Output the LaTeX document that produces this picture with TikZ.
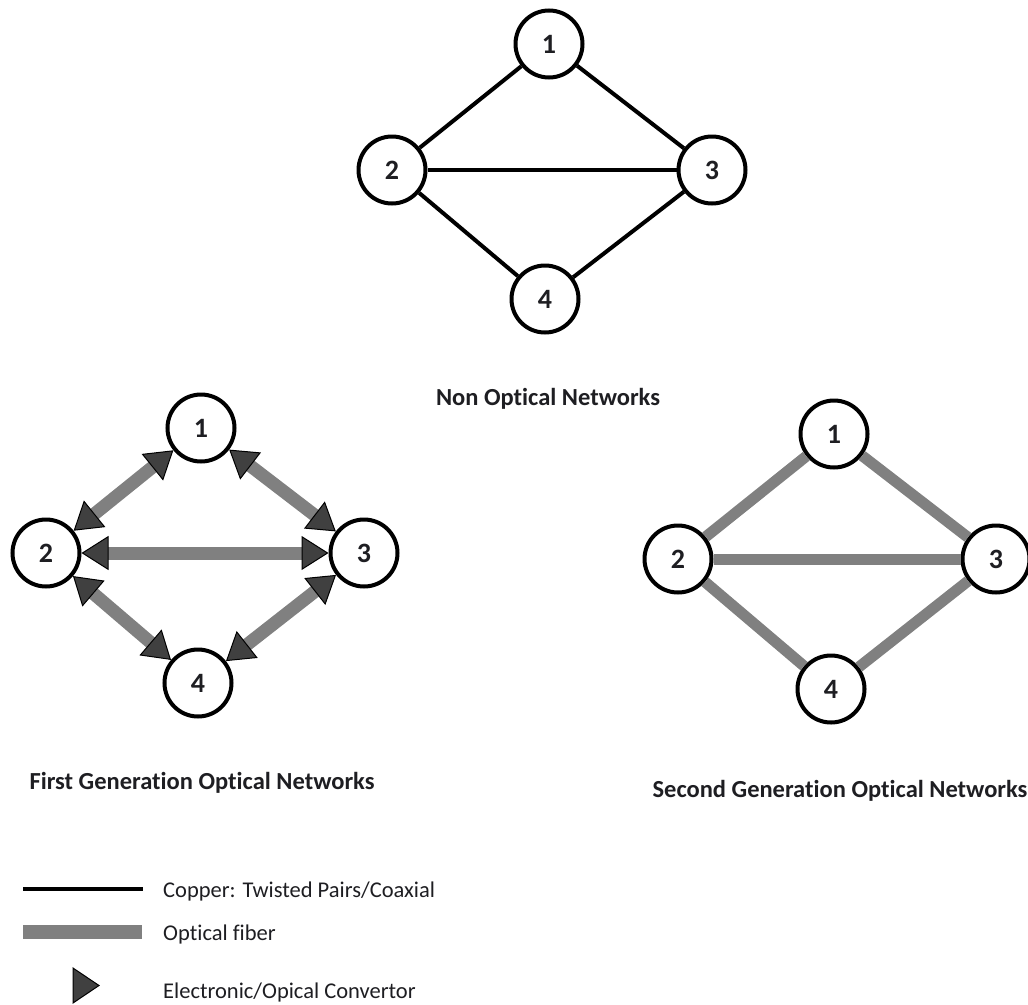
\documentclass[tikz,border=0pt]{standalone}
\usepackage{fontspec}
\setmainfont{Carlito}[Ligatures={NoCommon,NoContextual}]
\usetikzlibrary{arrows.meta}
\definecolor{fibergray}{HTML}{808080}
\definecolor{convfill}{HTML}{404040}
\definecolor{ink}{HTML}{1E1E22}
\tikzset{
  conv/.tip={Triangle[length=27pt, width=34pt, line width=1pt, fill=convfill, color=black]},
  netnode/.style={circle, draw=black, line width=4pt, fill=white, minimum size=67pt,
    inner sep=0pt, font=\fontsize{28}{28}\selectfont\bfseries, text=ink},
  copper/.style={draw=black, line width=4pt},
  fiber/.style={draw=fibergray, line width=13pt},
  fiberthin/.style={draw=fibergray, line width=11pt},
  caption/.style={font=\fontsize{24.5}{24.5}\selectfont\bfseries, text=ink, anchor=base, inner sep=0pt},
  legendtext/.style={font=\fontsize{22.5}{22.5}\selectfont, text=ink, anchor=base west, inner sep=0pt},
  convtri/.style={fill=convfill, draw=black, line width=1pt, line join=miter},
}
\begin{document}
\begin{tikzpicture}[x=1pt, y=-1pt]
\useasboundingbox (0,0) rectangle (1028,1004);

% Copper network
\node[netnode] (a1) at (549,44) {1};
\node[netnode] (a2) at (392,170) {2};
\node[netnode] (a3) at (712,170) {3};
\node[netnode] (a4) at (545,299) {4};
\draw[copper] (a2) -- (a1);
\draw[copper] (a1) -- (a3);
\draw[copper] (a2) -- (a3);
\draw[copper] (a2) -- (a4);
\draw[copper] (a4) -- (a3);
\node[caption] (capa) at (548,405) {Non Optical Networks};

% First generation: fiber links with converters at both ends
\node[netnode] (b1) at (201,428) {1};
\node[netnode] (b2) at (46,553) {2};
\node[netnode] (b3) at (364,553) {3};
\node[netnode] (b4) at (198,683) {4};
\draw[fiber, conv-conv] (b2) -- (b1);
\draw[fiber, conv-conv] (b1) -- (b3);
\draw[fiber, conv-conv] (b2) -- (b3);
\draw[fiber, conv-conv] (b2) -- (b4);
\draw[fiber, conv-conv] (b4) -- (b3);
\node[caption] (capb) at (202,789) {First Generation Optical Networks};

% Second generation: all-optical links
\node[netnode] (c1) at (834,434) {1};
\node[netnode] (c2) at (678,559) {2};
\node[netnode] (c3) at (996,559) {3};
\node[netnode] (c4) at (831,689) {4};
\draw[fiberthin] (c2) -- (c1);
\draw[fiberthin] (c1) -- (c3);
\draw[fiberthin] (c2) -- (c3);
\draw[fiberthin] (c2) -- (c4);
\draw[fiberthin] (c4) -- (c3);
\node[caption] (capc) at (840,797) {Second Generation Optical Networks};

% Legend
\coordinate (cuA) at (23,889);
\coordinate (cuB) at (143,889);
\draw[copper, line width=4.5pt] (cuA) -- (cuB);
\node[legendtext] (lgcu) at (163,897) {Copper: Twisted Pairs/Coaxial};

\coordinate (fbA) at (23,931.5);
\coordinate (fbB) at (142,931.5);
\draw[draw=fibergray, line width=14pt] (fbA) -- (fbB);
\node[legendtext] (lgfb) at (163,940) {Optical fiber};

\coordinate (trA) at (73,968);
\coordinate (trB) at (99,985.5);
\coordinate (trC) at (73,1003);
\draw[convtri] (trA) -- (trB) -- (trC) -- cycle;
\node[legendtext] (lgtr) at (163,998) {Electronic/Opical Convertor};
\end{tikzpicture}
\end{document}
